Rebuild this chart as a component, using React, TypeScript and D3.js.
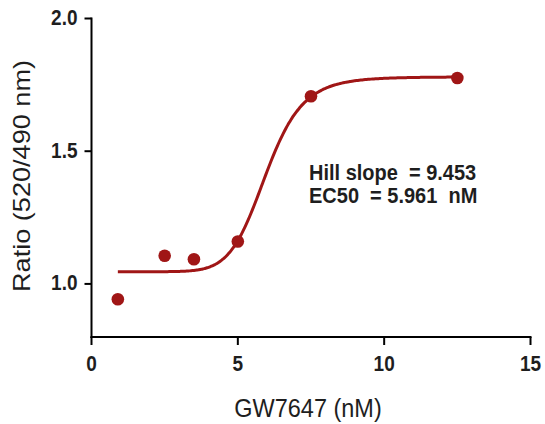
import React from "react";
import * as d3 from "d3";

const concentrations = [0.9, 2.5, 3.5, 5.0, 7.5, 12.5];
const ratios = [0.942, 1.106, 1.093, 1.16, 1.707, 1.776];
const xTicks = [0, 5, 10, 15];
const yTicks = [1.0, 1.5, 2.0];
const fitBottom = [1.046];
const fitTop = [1.78];
const hillSlope = [9.453];
const ec50 = [5.961];
const annotations = ["Hill slope  = 9.453", "EC50  = 5.961  nM"];

const W = 545;
const H = 424;
const RED = "#a01616";
const TEXT = "#1e1e1e";

function SText(props: {
  x: number;
  y: number;
  k: number;
  size: number;
  bold?: boolean;
  anchor?: string;
  children: React.ReactNode;
}) {
  return (
    <text
      transform={`translate(${props.x},${props.y}) scale(1,${props.k})`}
      textAnchor={props.anchor || "start"}
      fontSize={props.size}
      fontWeight={props.bold ? "bold" : "normal"}
      fill={TEXT}
      style={{ whiteSpace: "pre" }}
    >
      {props.children}
    </text>
  );
}

export default function App() {
  const x = d3.scaleLinear().domain([0, 15]).range([91.5, 530.5]);
  const y = d3.scaleLinear().domain([0.8, 2.0]).range([337, 18.5]);

  const hill = (c: number) =>
    fitBottom[0] + (fitTop[0] - fitBottom[0]) / (1 + Math.pow(ec50[0] / c, hillSlope[0]));
  const xs = d3.range(concentrations[0], concentrations[concentrations.length - 1] + 0.0001, 0.05);
  const line = d3
    .line<number>()
    .x((c) => x(c))
    .y((c) => y(hill(c)))
    .curve(d3.curveMonotoneX);

  const font = "'Liberation Sans', Arial, sans-serif";

  return (
    <svg
      width={W}
      height={H}
      style={{ position: "absolute", left: 0, top: 0, background: "#fff" }}
      fontFamily={font}
    >
      {/* axes */}
      <line x1={x(0)} x2={x(0)} y1={y(2.0) - 1} y2={y(0.8) + 1} stroke="#000" strokeWidth={2} />
      <line x1={x(0) - 1} x2={x(15) + 1} y1={y(0.8)} y2={y(0.8)} stroke="#000" strokeWidth={2} />
      {yTicks.map((t) => (
        <g key={t}>
          <line x1={x(0) - 7} x2={x(0)} y1={y(t)} y2={y(t)} stroke="#000" strokeWidth={2} />
          <SText x={77.5} y={y(t) + 6.5} k={1.12} size={19} bold anchor="end">
            {t.toFixed(1)}
          </SText>
        </g>
      ))}
      {xTicks.map((t) => (
        <g key={t}>
          <line x1={x(t)} x2={x(t)} y1={y(0.8)} y2={y(0.8) + 8} stroke="#000" strokeWidth={2} />
          <SText x={x(t)} y={371} k={1.15} size={19} bold anchor="middle">
            {t}
          </SText>
        </g>
      ))}
      <SText x={308} y={417} k={1.12} size={23.5} anchor="middle">
        GW7647 (nM)
      </SText>
      <text
        transform={`translate(30, 176) rotate(-90)`}
        textAnchor="middle"
        fontSize={24}
        fill={TEXT}
        textLength={232}
        lengthAdjust="spacingAndGlyphs"
      >
        Ratio (520/490 nm)
      </text>

      {/* fit curve */}
      <path d={line(xs) || ""} fill="none" stroke={RED} strokeWidth={3} />
      {concentrations.map((c, i) => (
        <circle key={i} cx={x(c)} cy={y(ratios[i])} r={6.3} fill={RED} />
      ))}

      {/* annotation */}
      {annotations.map((a, i) => (
        <SText key={i} x={309} y={180 + i * 23} k={1.12} size={20} bold>
          {a}
        </SText>
      ))}
    </svg>
  );
}
